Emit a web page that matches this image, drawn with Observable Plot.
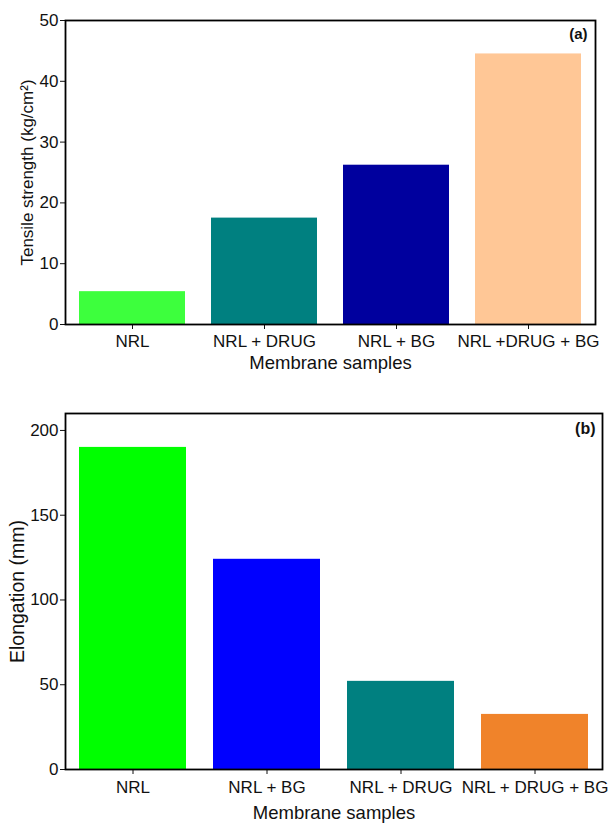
<!DOCTYPE html>
<html>
<head>
<meta charset="utf-8">
<script src="https://cdn.jsdelivr.net/npm/d3@7"></script>
<script src="https://cdn.jsdelivr.net/npm/@observablehq/plot@0.6"></script>
<style>
  body { margin: 0; background: #fff; }
  #wrap { width: 612px; }
  svg { display: block; }
</style>
</head>
<body>
<div id="wrap"></div>
<script>
const samplesA = ["NRL", "NRL + DRUG", "NRL + BG", "NRL +DRUG + BG"];
const tensile = [5.4, 17.5, 26.2, 44.5];
const colorsA = ["#3dff3d", "#008080", "#00009e", "#ffc796"];
const ticksA = [0, 10, 20, 30, 40, 50];

const samplesB = ["NRL", "NRL + BG", "NRL + DRUG", "NRL + DRUG + BG"];
const elongation = [190, 124, 52, 32.5];
const colorsB = ["#00ff00", "#0000ff", "#008080", "#f0832a"];
const ticksB = [0, 50, 100, 150, 200];

const font = "'Liberation Sans', Arial, Helvetica, sans-serif";

const dataA = samplesA.map((s, i) => ({sample: s, value: tensile[i], color: colorsA[i]}));
const dataB = samplesB.map((s, i) => ({sample: s, value: elongation[i], color: colorsB[i]}));

function panel(o) {
  return Plot.plot({
    width: 612,
    height: o.height,
    marginLeft: 65,
    marginRight: o.mr,
    marginTop: o.mt,
    marginBottom: o.mb,
    style: {fontFamily: font, color: "#111", background: "#fff"},
    x: {domain: o.samples, paddingInner: 0.2, paddingOuter: 0.1},
    y: {domain: o.domain, ticks: o.ticks},
    color: {type: "identity"},
    marks: [
      Plot.barY(o.data, {x: "sample", y: "value", fill: "color"}),
      Plot.axisY({ticks: o.ticks, tickSize: 5, tickPadding: 2, fontSize: 17, label: null}),
      Plot.axisY({ticks: [], tickSize: 0, label: o.ylabel, fontSize: o.ylabelSize,
        labelAnchor: "center", labelArrow: "none", labelOffset: o.ylabelOffset}),
      Plot.axisX({tickSize: 5, tickPadding: o.xpad, fontSize: 17, label: null}),
      Plot.axisX({ticks: [], tickSize: 0, label: "Membrane samples", fontSize: 18.5,
        labelAnchor: "center", labelArrow: "none", labelOffset: o.xlabelOffset}),
      Plot.frame({stroke: "#000", strokeWidth: 1.8}),
      Plot.text([o.tag], {frameAnchor: "top-right", text: d => d, dx: o.tagDx, dy: o.tagDy,
        fontWeight: "bold", fontSize: o.tagSize, textAnchor: "end", lineAnchor: "top"})
    ]
  });
}

const wrap = document.getElementById("wrap");
wrap.append(panel({data: dataA, samples: samplesA, domain: [0, 50], ticks: ticksA,
  ylabel: "Tensile strength (kg/cm²)", ylabelSize: 17, ylabelOffset: 45, xpad: 5, xlabelOffset: 44,
  tag: "(a)", tagSize: 15, height: 380, mt: 20, mb: 56, mr: 17, tagDx: -8, tagDy: 8}));
wrap.append(panel({data: dataB, samples: samplesB, domain: [0, 210], ticks: ticksB,
  ylabel: "Elongation (mm)", ylabelSize: 19.5, ylabelOffset: 55, xpad: 6, xlabelOffset: 49,
  tag: "(b)", tagSize: 16, height: 444, mt: 33, mb: 55, mr: 10, tagDx: -7, tagDy: 9}));
</script>
</body>
</html>
